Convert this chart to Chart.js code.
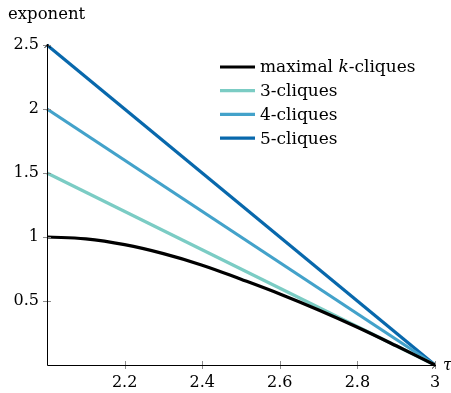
<!DOCTYPE html>
<html>
<head>
<meta charset="utf-8">
<script src="https://cdn.jsdelivr.net/npm/chart.js@4/dist/chart.umd.min.js"></script>
<style>
  html, body { margin: 0; padding: 0; background: #fff; }
  #wrap { width: 451px; height: 393px; }
</style>
</head>
<body>
<div id="wrap"><canvas id="chart" width="451" height="393"></canvas></div>
<script>
// values
const maxTau = [2, 2.1, 2.2, 2.3, 2.4, 2.5, 2.6, 2.7, 2.8, 2.9, 3];
const maximalCliques = [1.0, 0.985, 0.94, 0.87, 0.78, 0.67, 0.555, 0.43, 0.295, 0.15, 0];
const lineTau = [2, 3];
const threeCliques = [1.5, 0];
const fourCliques = [2, 0];
const fiveCliques = [2.5, 0];
const seriesNames = ["maximal k-cliques", "3-cliques", "4-cliques", "5-cliques"];
const xTicks = [2.2, 2.4, 2.6, 2.8, 3];
const yTicks = [0.5, 1, 1.5, 2, 2.5];

const FONT = "DejaVu Serif";
const FS = 16;
const LFS = 17;
const colors = ["#000000", "#7bccc4", "#43a2ca", "#0868ac"];

const pts = (xs, ys) => xs.map((x, i) => ({ x: x, y: ys[i] }));

const fmt = v => String(Number(v.toFixed(1)));

// axes with arrows, ticks crossing the axis, legend and labels
const decor = {
  id: "decor",
  afterDatasetsDraw(chart) {
    const ctx = chart.ctx;
    const xs = chart.scales.x, ys = chart.scales.y;
    const x0 = xs.getPixelForValue(2), x1 = xs.getPixelForValue(3);
    const y0 = ys.getPixelForValue(0), y1 = ys.getPixelForValue(2.5);
    ctx.save();

    // tick marks
    ctx.strokeStyle = "#8c8c8c";
    ctx.lineWidth = 1;
    xTicks.forEach(t => {
      let px = Math.round(xs.getPixelForValue(t)) + 0.5;
      ctx.beginPath(); ctx.moveTo(px, y0 - 4); ctx.lineTo(px, y0 + 4); ctx.stroke();
    });
    yTicks.forEach(t => {
      let py = Math.round(ys.getPixelForValue(t)) + 0.5;
      ctx.beginPath(); ctx.moveTo(x0 - 4, py); ctx.lineTo(x0 + 4, py); ctx.stroke();
    });

    // axis lines
    ctx.strokeStyle = "#000";
    ctx.lineWidth = 1;
    let ax = Math.round(x0) + 0.5, ay = Math.round(y0) + 0.5;
    ctx.beginPath();
    ctx.moveTo(ax, ay); ctx.lineTo(x1 + 1, ay);
    ctx.moveTo(ax, ay); ctx.lineTo(ax, y1 - 1);
    ctx.stroke();
    // arrow heads
    ctx.lineWidth = 0.9;
    ctx.beginPath();
    ctx.moveTo(x1 - 3, ay - 3); ctx.quadraticCurveTo(x1 - 0.5, ay - 0.5, x1 + 1, ay);
    ctx.quadraticCurveTo(x1 - 0.5, ay + 0.5, x1 - 3, ay + 3);
    ctx.moveTo(ax - 3, y1 + 3); ctx.quadraticCurveTo(ax - 0.5, y1 + 0.5, ax, y1 - 1);
    ctx.quadraticCurveTo(ax + 0.5, y1 + 0.5, ax + 3, y1 + 3);
    ctx.stroke();

    // axis labels
    ctx.fillStyle = "#000";
    ctx.textBaseline = "middle";
    ctx.textAlign = "left";
    ctx.font = "16.5px '" + FONT + "'";
    ctx.fillText("exponent", 8, 15);
    ctx.font = "italic " + FS + "px '" + FONT + "'";
    ctx.fillText("τ", 443, y0 + 1);

    // legend
    let lx = 220, ly = 67, gap = 23.7;
    chart.data.datasets.forEach((ds, i) => {
      let yy = ly + i * gap;
      ctx.strokeStyle = ds.borderColor;
      ctx.lineWidth = 3.2;
      ctx.beginPath(); ctx.moveTo(lx, yy); ctx.lineTo(lx + 35, yy); ctx.stroke();
      ctx.fillStyle = "#000";
      let tx = lx + 40;
      ctx.font = LFS + "px '" + FONT + "'";
      if (i === 0) {
        ctx.fillText("maximal ", tx, yy + 1);
        tx += ctx.measureText("maximal ").width;
        ctx.font = "italic " + LFS + "px '" + FONT + "'";
        ctx.fillText("k", tx, yy + 1);
        tx += ctx.measureText("k").width;
        ctx.font = LFS + "px '" + FONT + "'";
        ctx.fillText("-cliques", tx, yy + 1);
      } else {
        ctx.fillText(ds.label, tx, yy + 1);
      }
    });
    ctx.restore();
  }
};

new Chart(document.getElementById("chart"), {
  type: "line",
  data: {
    datasets: [
      { label: seriesNames[0], data: pts(maxTau, maximalCliques), borderColor: colors[0], tension: 0.4 },
      { label: seriesNames[1], data: pts(lineTau, threeCliques), borderColor: colors[1] },
      { label: seriesNames[2], data: pts(lineTau, fourCliques), borderColor: colors[2] },
      { label: seriesNames[3], data: pts(lineTau, fiveCliques), borderColor: colors[3] }
    ]
  },
  options: {
    responsive: false,
    animation: false,
    layout: { padding: { top: 45, right: 16, left: 0, bottom: 0 } },
    elements: {
      line: { borderWidth: 3.2, fill: false },
      point: { radius: 0 }
    },
    datasets: { line: { clip: false } },
    plugins: { legend: { display: false }, tooltip: { enabled: false } },
    scales: {
      x: {
        type: "linear", min: 2, max: 3,
        afterBuildTicks: s => { s.ticks = xTicks.map(v => ({ value: v })); },
        afterFit: s => { s.height = 28; },
        grid: { display: false }, border: { display: false },
        ticks: { color: "#000", padding: 0, maxRotation: 0, font: { family: FONT, size: FS }, callback: fmt }
      },
      y: {
        type: "linear", min: 0, max: 2.5,
        afterBuildTicks: s => { s.ticks = yTicks.map(v => ({ value: v })); },
        afterFit: s => { s.width = 47; },
        grid: { display: false }, border: { display: false },
        ticks: { color: "#000", padding: 0, font: { family: FONT, size: FS }, callback: fmt }
      }
    }
  },
  plugins: [decor]
});
</script>
</body>
</html>
